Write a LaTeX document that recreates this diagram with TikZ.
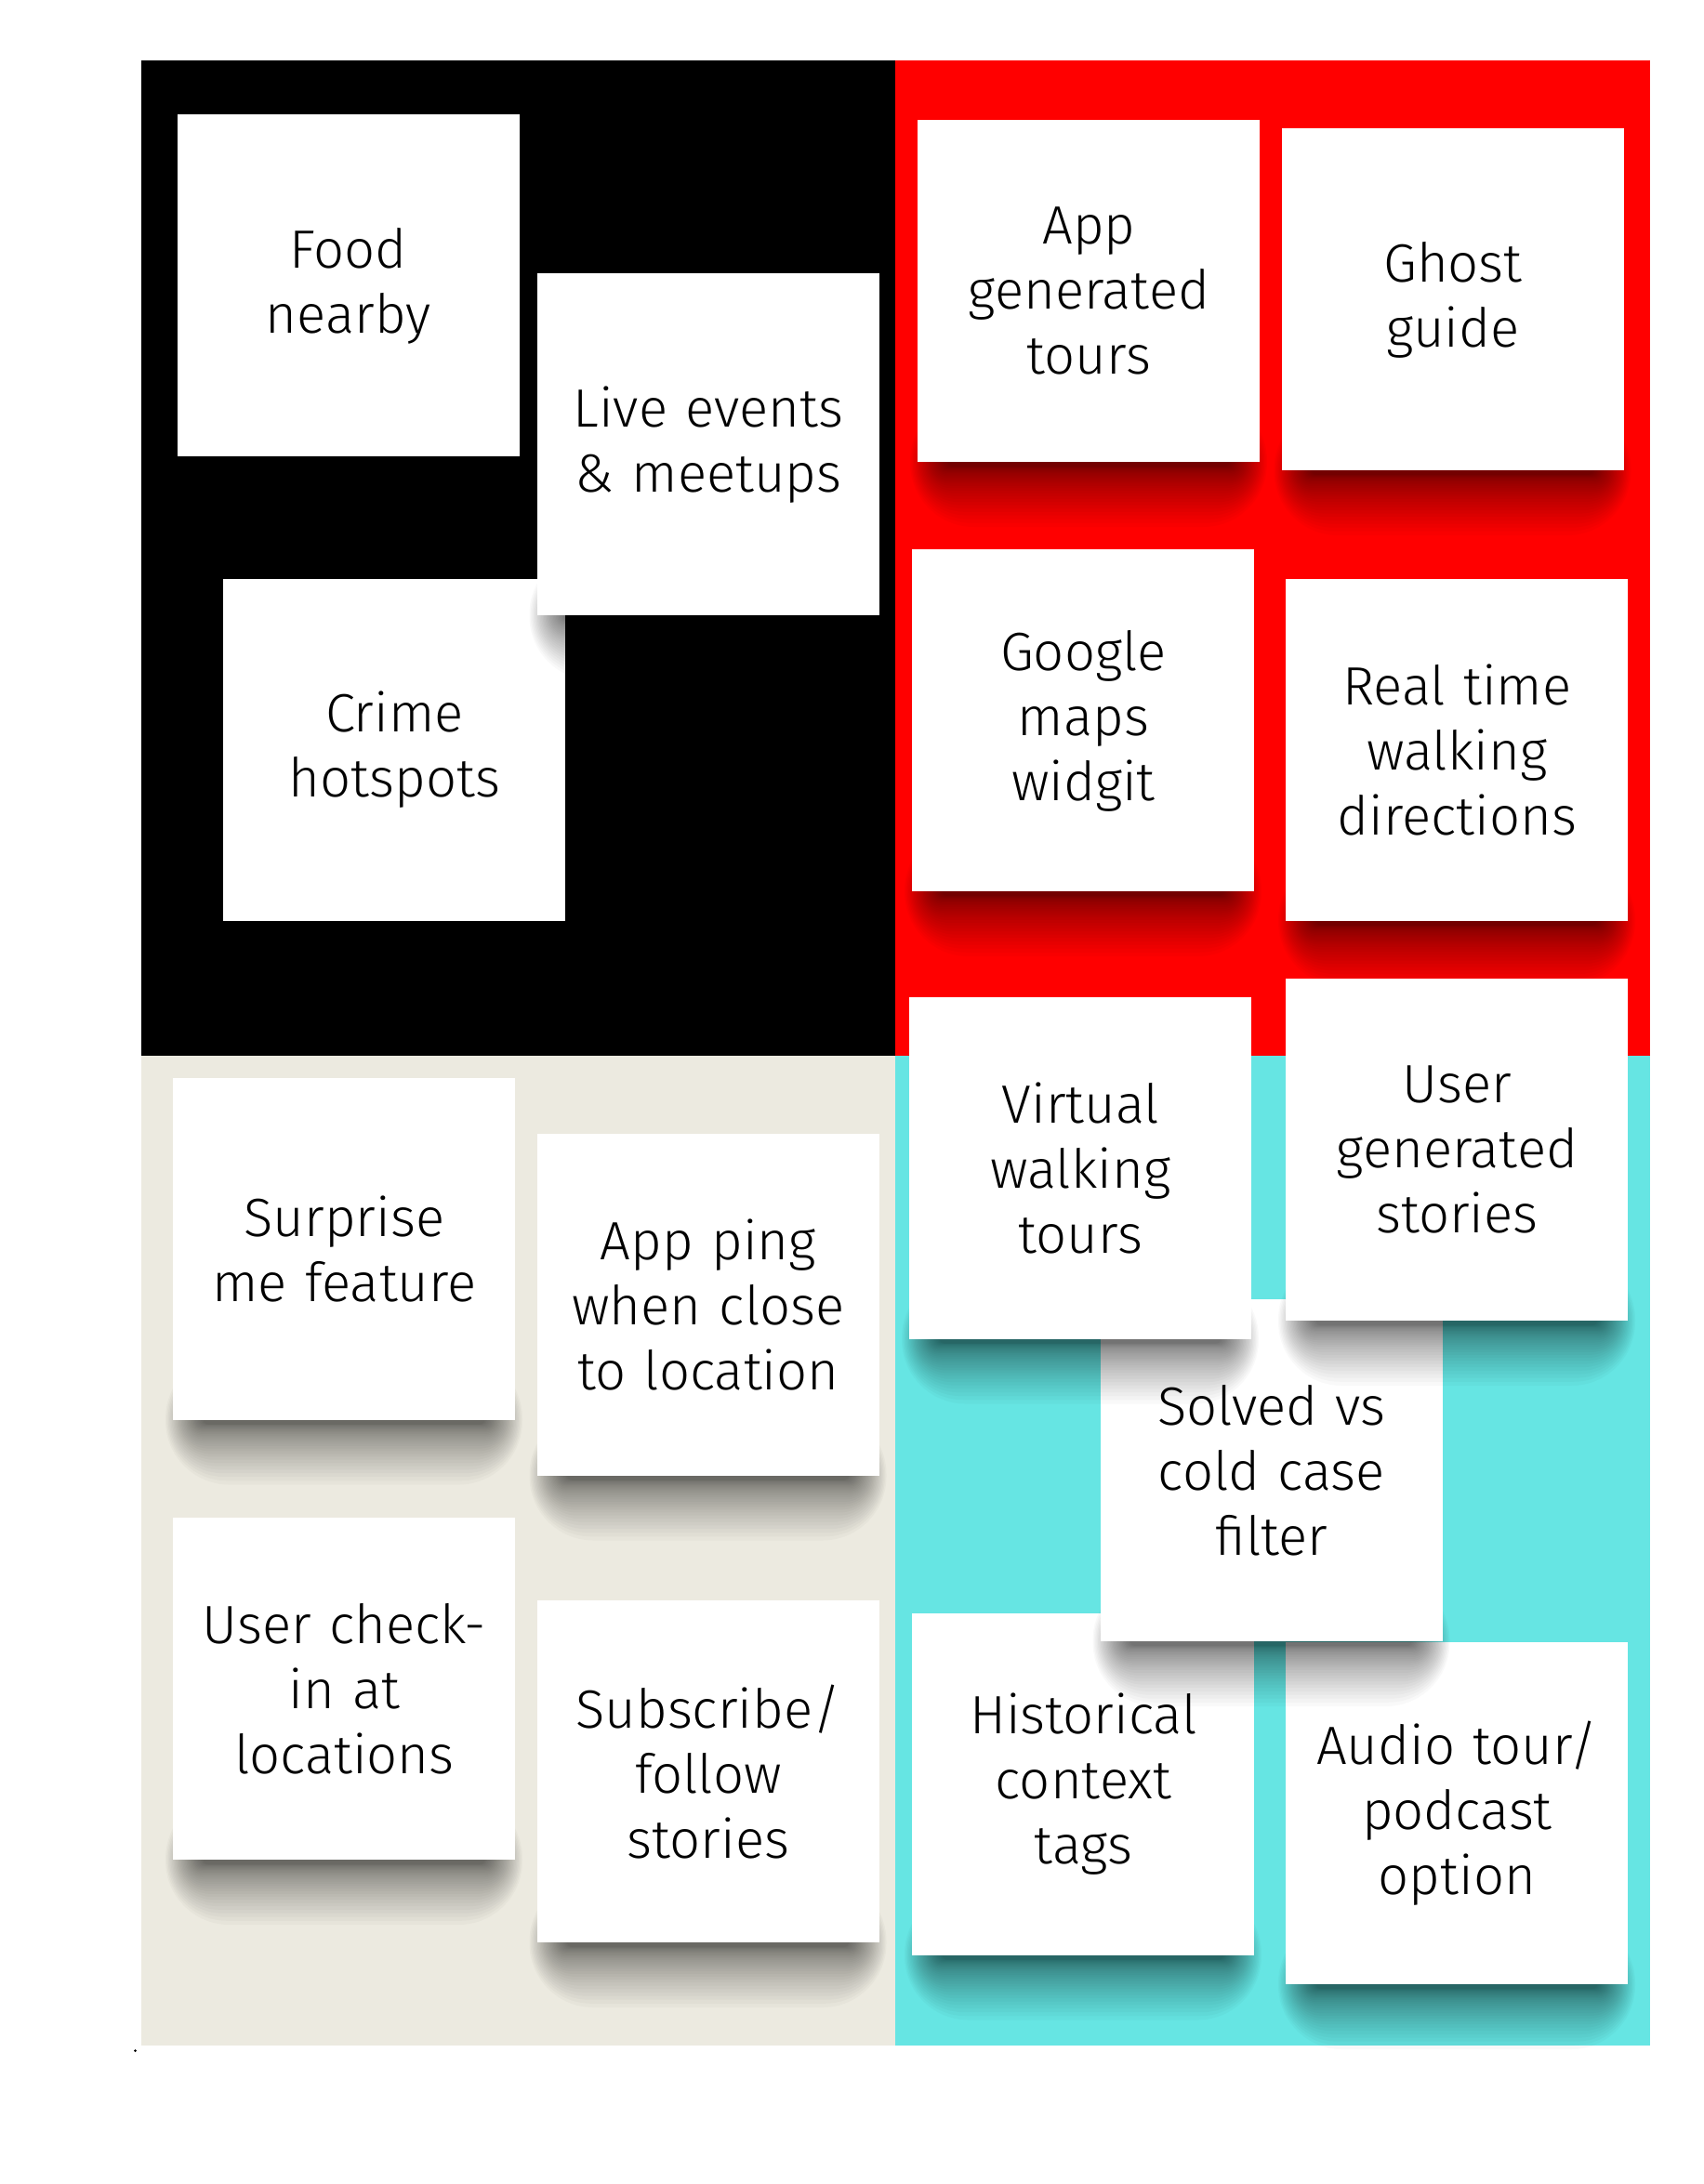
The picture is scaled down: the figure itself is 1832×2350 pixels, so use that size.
\documentclass[tikz,border=0pt]{standalone}
\usepackage{fontspec}
\IfFontExistsTF{Fira Sans Light}{\setmainfont{Fira Sans Light}}{\setmainfont{Fira Sans}}
\definecolor{qred}{HTML}{FF0000}
\definecolor{qcyan}{HTML}{66E5E3}
\definecolor{qbeige}{HTML}{ECEAE0}
\tikzset{
  note/.style={fill=white, minimum width=184pt, minimum height=184pt, inner sep=0pt,
    anchor=north west, align=center, text width=178pt,
    font=\fontsize{29}{35}\selectfont},
  shadowlayer/.style={fill=black, opacity=0.023},
}
% #1 name, #2 x, #3 y (top-left, px), #4 text
\newcommand\stickynote[4]{%
  \foreach \k in {1,...,30} {
    \pgfmathsetmacro\tt{\k/30}
    \pgfmathsetmacro\ra{150+42*\tt}
    \pgfmathsetmacro\rb{5+65*\tt*\tt}
    \pgfmathsetmacro\rr{0.5*0.98*\rb}
    \fill[shadowlayer, rounded corners=\rr pt]
      ({#2+184-\ra},{#3+368-\rb}) rectangle ({#2+184+\ra},{#3+368+\rb});
  }
  \node[note] (#1) at (#2,#3) {#4};
}
\begin{document}
\begin{tikzpicture}[x=0.5pt,y=-0.5pt]
\useasboundingbox (0,0) rectangle (1832,2350);
\fill[black]  (151.5,64.5)  rectangle (963,1135.5);
\fill[qred]   (963,64.5)    rectangle (1774.5,1135.5);
\fill[qbeige] (151.5,1135.5) rectangle (963,2201);
\fill[qcyan]  (963,1135.5)  rectangle (1774.5,2201);
\fill[black] (145.5,2206.5) circle (1.5);

% black quadrant
\stickynote{food}{190.5}{123}{Food\\nearby}
\stickynote{crime}{240}{622.5}{Crime\\hotspots}
\stickynote{live}{577.5}{294}{Live events\\\& meetups}

% red quadrant
\stickynote{appgen}{987}{129}{App\\generated\\tours}
\stickynote{ghost}{1378.5}{138}{Ghost\\guide}
\stickynote{google}{981}{591}{Google\\maps\\widgit}
\stickynote{real}{1383}{622.5}{Real time\\walking\\directions}

% cyan quadrant
\stickynote{hist}{981}{1735.5}{Historical\\context\\tags}
\stickynote{audio}{1383}{1767}{Audio tour/\\podcast\\option}
\stickynote{solved}{1183.5}{1398}{Solved vs\\cold case\\filter}
\stickynote{virtual}{978}{1072.5}{Virtual\\walking\\tours}
\stickynote{usergen}{1383}{1053}{User\\generated\\stories}

% beige quadrant
\stickynote{surprise}{186}{1159.5}{Surprise\\me feature}
\stickynote{ping}{577.5}{1219.5}{App ping\\when close\\to location}
\stickynote{checkin}{186}{1633}{User check-\\in at\\locations}
\stickynote{subscribe}{577.5}{1722}{Subscribe/\\follow\\stories}
\end{tikzpicture}
\end{document}
